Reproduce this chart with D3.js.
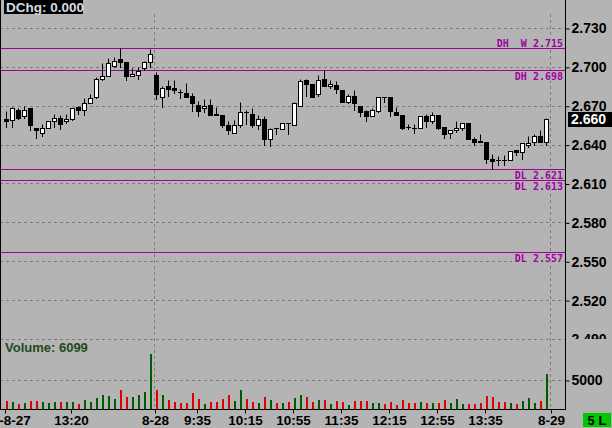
<!DOCTYPE html>
<html><head><meta charset="utf-8">
<script src="https://cdn.jsdelivr.net/npm/d3@7/dist/d3.min.js"></script>
<style>
html,body{margin:0;padding:0;background:#b4b4b4;overflow:hidden;}
svg{display:block;}
text{font-family:"Liberation Sans",Arial,sans-serif;font-weight:bold;}
</style></head><body>
<svg id="c" width="612" height="428"></svg>
<script>
const categories = [
 "08-27 12:25","08-27 12:30","08-27 12:35","08-27 12:40","08-27 12:45","08-27 12:50","08-27 12:55",
 "08-27 13:00","08-27 13:05","08-27 13:10","08-27 13:15","08-27 13:20","08-27 13:25","08-27 13:30",
 "08-27 13:35","08-27 13:40","08-27 13:45","08-27 13:50","08-27 13:55","08-27 14:00","08-27 14:05",
 "08-27 14:10","08-27 14:15","08-27 14:20","08-27 14:25",
 "08-28 09:00","08-28 09:05","08-28 09:10","08-28 09:15","08-28 09:20","08-28 09:25","08-28 09:30",
 "08-28 09:35","08-28 09:40","08-28 09:45","08-28 09:50","08-28 09:55","08-28 10:00","08-28 10:05",
 "08-28 10:10","08-28 10:15","08-28 10:20","08-28 10:25","08-28 10:30","08-28 10:35","08-28 10:40",
 "08-28 10:45","08-28 10:50","08-28 10:55","08-28 11:00","08-28 11:05","08-28 11:10","08-28 11:15",
 "08-28 11:20","08-28 11:25","08-28 11:30","08-28 11:35","08-28 11:40","08-28 11:45","08-28 11:50",
 "08-28 11:55","08-28 12:00","08-28 12:05","08-28 12:10","08-28 12:15","08-28 12:20","08-28 12:25",
 "08-28 12:30","08-28 12:35","08-28 12:40","08-28 12:45","08-28 12:50","08-28 12:55","08-28 13:00",
 "08-28 13:05","08-28 13:10","08-28 13:15","08-28 13:20","08-28 13:25","08-28 13:30","08-28 13:35",
 "08-28 13:40","08-28 13:45","08-28 13:50","08-28 13:55","08-28 14:00","08-28 14:05","08-28 14:10",
 "08-28 14:15","08-28 14:20","08-28 14:25"];
const nextSession = "08-29 09:00";
const opens = [
 2.660,2.659,2.667,2.662,2.668,2.653,2.649,2.653,2.658,2.661,
 2.658,2.660,2.669,2.667,2.672,2.677,2.691,2.693,2.701,2.706,
 2.704,2.693,2.694,2.699,2.704,2.694,2.677,2.685,2.684,2.681,
 2.680,2.678,2.671,2.668,2.671,2.664,2.663,2.655,2.649,2.655,
 2.665,2.664,2.655,2.660,2.644,2.653,2.652,2.657,2.655,2.670,
 2.690,2.687,2.679,2.691,2.685,2.686,2.682,2.673,2.678,2.670,
 2.666,2.662,2.666,2.677,2.677,2.665,2.663,2.654,2.653,2.653,
 2.662,2.658,2.663,2.654,2.649,2.651,2.653,2.657,2.644,2.643,
 2.642,2.629,2.628,2.628,2.628,2.636,2.634,2.640,2.642,2.647,
 2.642];
const highs = [
 2.666,2.669,2.668,2.670,2.668,2.653,2.656,2.658,2.664,2.663,
 2.664,2.668,2.670,2.676,2.679,2.692,2.703,2.707,2.708,2.715,
 2.704,2.699,2.700,2.705,2.714,2.696,2.685,2.690,2.690,2.683,
 2.688,2.680,2.674,2.675,2.675,2.669,2.663,2.658,2.659,2.673,
 2.667,2.668,2.663,2.662,2.653,2.653,2.657,2.657,2.673,2.691,
 2.691,2.687,2.694,2.698,2.690,2.689,2.682,2.679,2.682,2.670,
 2.667,2.668,2.677,2.677,2.677,2.669,2.663,2.656,2.656,2.662,
 2.664,2.665,2.663,2.654,2.651,2.658,2.657,2.657,2.646,2.648,
 2.642,2.633,2.631,2.632,2.635,2.636,2.641,2.647,2.648,2.651,
 2.661];
const lows = [
 2.654,2.654,2.660,2.661,2.651,2.645,2.647,2.653,2.654,2.652,
 2.657,2.659,2.664,2.663,2.672,2.676,2.690,2.693,2.700,2.700,
 2.690,2.693,2.691,2.698,2.700,2.675,2.669,2.678,2.680,2.676,
 2.677,2.666,2.662,2.665,2.663,2.663,2.654,2.648,2.649,2.654,
 2.656,2.654,2.652,2.640,2.639,2.648,2.652,2.648,2.655,2.670,
 2.678,2.677,2.678,2.685,2.684,2.680,2.673,2.672,2.667,2.662,
 2.658,2.662,2.665,2.673,2.662,2.663,2.652,2.652,2.649,2.653,
 2.654,2.657,2.652,2.645,2.645,2.650,2.651,2.644,2.640,2.642,
 2.626,2.621,2.624,2.624,2.628,2.632,2.629,2.638,2.640,2.642,
 2.640];
const closes = [
 2.658,2.668,2.661,2.667,2.655,2.651,2.653,2.658,2.661,2.656,
 2.660,2.668,2.667,2.672,2.676,2.691,2.693,2.703,2.705,2.704,
 2.693,2.695,2.697,2.704,2.710,2.679,2.684,2.683,2.682,2.681,
 2.677,2.672,2.666,2.670,2.663,2.663,2.655,2.651,2.655,2.665,
 2.665,2.655,2.660,2.644,2.652,2.653,2.657,2.657,2.672,2.689,
 2.687,2.677,2.690,2.685,2.687,2.683,2.673,2.678,2.672,2.665,
 2.662,2.667,2.677,2.677,2.666,2.663,2.653,2.654,2.653,2.662,
 2.658,2.663,2.653,2.648,2.651,2.653,2.657,2.644,2.642,2.642,
 2.629,2.627,2.628,2.628,2.635,2.634,2.641,2.641,2.647,2.642,
 2.660];
const volumes = [
 1430,1200,860,1090,1430,1430,1200,1090,1200,1260,
 1200,1200,860,1550,1260,1900,2360,2300,1780,3280,
 2120,2070,2470,2930,9480,3280,2410,1550,1260,1090,
 1090,2810,1780,860,1200,1200,1780,2410,1430,3280,
 1720,1200,1090,2070,1550,1090,980,1200,1900,2410,
 2010,1260,1550,1550,860,1430,1260,740,1380,1380,
 1380,980,980,860,1260,690,1550,980,980,1260,
 980,1090,980,1550,980,1720,860,860,860,1090,
 2290,2120,1260,1260,1090,810,1430,1900,1090,1430,
 6099];
const priceTicks = [2.730,2.700,2.670,2.640,2.610,2.580,2.550,2.520,2.490];
const volumeTicks = [5000];
const timeTickCats = ["08-27 12:25","08-27 13:20","08-28 09:00","08-28 09:35","08-28 10:15","08-28 10:55",
 "08-28 11:35","08-28 12:15","08-28 12:55","08-28 13:35","08-29 09:00"];
const timeTickLabels = ["20-8-27","13:20","8-28","9:35","10:15","10:55","11:35","12:15","12:55","13:35","8-29"];
const sessionStarts = ["08-28 09:00","08-29 09:00"];
const refLevels = [2.715,2.698,2.621,2.613,2.557];
const refNames = ["DH  W","DH","DL","DL","DL"];
const lastPrice = 2.660;
const lastVolume = 6099;
const dayChange = "0.000";
const periodLabel = "5 L";

const BG = "#b4b4b4", GRID = "#7c7c7c", PURPLE = "#a000a0";
const svg = d3.select("#c");
const axisX = 565, axisY = 409;
const snap = v => Math.round(v) + 0.5;

const xDomain = categories.concat([nextSession]);
const x = d3.scaleBand().domain(xDomain).range([3.5, 3.5 + xDomain.length * 6]).padding(0);
const cx = d => x(d) + x.bandwidth() / 2;
const y = d3.scaleLinear().domain([2.49, 2.73]).range([338.6, 28.3]);
const vy = d3.scaleLinear().domain([0, 5000]).range([axisY, 380]);

svg.append("rect").attr("width", 612).attr("height", 428).attr("fill", BG);

// horizontal grid
const g = svg.append("g");
g.selectAll("line.pg").data(priceTicks).join("line")
  .attr("x1", 0).attr("x2", axisX).attr("y1", d => snap(y(d))).attr("y2", d => snap(y(d)))
  .attr("stroke", GRID).attr("stroke-dasharray", "3,3");
g.selectAll("line.vg").data(volumeTicks).join("line")
  .attr("x1", 0).attr("x2", axisX).attr("y1", d => snap(vy(d))).attr("y2", d => snap(vy(d)))
  .attr("stroke", GRID).attr("stroke-dasharray", "3,3");
// session separators
g.selectAll("line.sep").data(sessionStarts).join("line")
  .attr("x1", d => Math.round(cx(d)) - 2.5).attr("x2", d => Math.round(cx(d)) - 2.5)
  .attr("y1", 14).attr("y2", axisY).attr("stroke", GRID).attr("stroke-dasharray", "3,3");

// reference levels
const refs = refLevels.map((v, i) => ({v, name: refNames[i], above: i === 0}));
const rg = svg.append("g");
rg.selectAll("line").data(refs).join("line")
  .attr("x1", 1).attr("x2", axisX).attr("y1", d => snap(y(d.v))).attr("y2", d => snap(y(d.v)))
  .attr("stroke", PURPLE).attr("stroke-width", 1.2);
const lbl = rg.selectAll("g.l").data(refs).join("g");
lbl.append("rect")
  .attr("x", d => d.above ? 497 : 512).attr("width", d => d.above ? 67 : 52)
  .attr("y", d => d.above ? snap(y(d.v)) - 10 : snap(y(d.v)) + 1).attr("height", 9)
  .attr("fill", BG);
lbl.append("text")
  .attr("x", 563).attr("text-anchor", "end")
  .attr("y", d => d.above ? snap(y(d.v)) - 2 : snap(y(d.v)) + 9)
  .style("font-family", "'DejaVu Sans Mono',monospace").style("font-size", "10px")
  .style("white-space", "pre").attr("fill", PURPLE)
  .text(d => d.name + " " + d.v.toFixed(3));

// candles
const bars = categories.map((c, i) => ({c, o: opens[i], h: highs[i], l: lows[i], cl: closes[i], v: volumes[i]}));
const cg = svg.append("g");
cg.selectAll("line.w").data(bars).join("line")
  .attr("x1", d => Math.floor(cx(d.c)) + 0.5).attr("x2", d => Math.floor(cx(d.c)) + 0.5)
  .attr("y1", d => snap(y(d.h))).attr("y2", d => snap(y(d.l)) + 0.5)
  .attr("stroke", "#000");
cg.selectAll("rect.b").data(bars.filter(d => d.o !== d.cl)).join("rect")
  .attr("x", d => Math.floor(cx(d.c)) - 1.5).attr("width", 4)
  .attr("y", d => snap(y(Math.max(d.o, d.cl))))
  .attr("height", d => Math.max(1, snap(y(Math.min(d.o, d.cl))) - snap(y(Math.max(d.o, d.cl)))))
  .attr("fill", d => d.cl > d.o ? "#fff" : "#000").attr("stroke", "#000");
cg.selectAll("line.dj").data(bars.filter(d => d.o === d.cl)).join("line")
  .attr("x1", d => Math.floor(cx(d.c)) - 2).attr("x2", d => Math.floor(cx(d.c)) + 3)
  .attr("y1", d => snap(y(d.o))).attr("y2", d => snap(y(d.o)))
  .attr("stroke", "#000");

// volume
svg.append("g").selectAll("rect").data(bars).join("rect")
  .attr("x", d => Math.floor(cx(d.c))).attr("width", 2)
  .attr("y", d => Math.round(vy(d.v))).attr("height", d => axisY - Math.round(vy(d.v)))
  .attr("fill", d => d.cl > d.o ? "#005a00" : "#e00000");

// axes
svg.append("line").attr("x1", 0.5).attr("x2", 0.5).attr("y1", 0).attr("y2", axisY).attr("stroke", "#000");
const ra = svg.append("g").attr("transform", `translate(${axisX + 0.5},0)`)
  .call(d3.axisRight(d3.scaleLinear().domain(y.domain()).range(y.range().map(snap)))
    .tickValues(priceTicks).tickFormat(d3.format(".3f")).tickSize(4).tickPadding(2));
ra.select(".domain").remove();
const va = svg.append("g").attr("transform", `translate(${axisX + 0.5},0)`)
  .call(d3.axisRight(d3.scaleLinear().domain(vy.domain()).range(vy.range().map(snap)))
    .tickValues(volumeTicks).tickFormat(d3.format("d")).tickSize(4).tickPadding(2));
va.select(".domain").remove();
svg.selectAll(".tick text").style("font-family", "'Liberation Sans',Arial,sans-serif")
  .style("font-weight", "bold").style("font-size", "14px").attr("fill", "#000");
svg.selectAll(".tick line").attr("stroke", "#000");

// volume panel covers the lowest price label
svg.append("rect").attr("x", axisX + 1).attr("y", 339).attr("width", 46).attr("height", 30).attr("fill", BG);
va.raise();

svg.append("line").attr("x1", axisX + 0.5).attr("x2", axisX + 0.5).attr("y1", 0).attr("y2", axisY + 1).attr("stroke", "#000");

const labelMap = new Map(timeTickCats.map((c, i) => [c, timeTickLabels[i]]));
const ba = svg.append("g").attr("transform", `translate(0,${axisY + 0.5})`)
  .call(d3.axisBottom(x).tickValues(timeTickCats).tickFormat(d => labelMap.get(d)).tickSize(4).tickPadding(2));
ba.select(".domain").remove();
ba.selectAll(".tick").attr("transform", d => `translate(${Math.floor(cx(d)) - 0.5},0)`);
ba.selectAll("text").style("font-family", "'Liberation Sans',Arial,sans-serif")
  .style("font-weight", "bold").style("font-size", "13.5px").attr("fill", "#000")
  .attr("dx", (d, i) => i === 0 ? 2 : 0);
ba.selectAll("line").attr("stroke", "#000");
svg.append("line").attr("x1", 0).attr("x2", axisX + 1).attr("y1", axisY + 0.5).attr("y2", axisY + 0.5).attr("stroke", "#000");

// last price tag
const ly = y(lastPrice);
svg.append("rect").attr("x", 568).attr("y", Math.round(ly) - 7).attr("width", 44).attr("height", 15).attr("fill", "#000");
svg.append("text").attr("x", 571).attr("y", Math.round(ly) + 5).attr("fill", "#fff")
  .style("font-size", "14px").text(lastPrice.toFixed(3));

// DChg box
svg.append("rect").attr("x", 4).attr("y", 0).attr("width", 79).attr("height", 14).attr("fill", "#000");
svg.append("text").attr("x", 6).attr("y", 12).attr("fill", "#d4dce4")
  .style("font-size", "13.5px").text("DChg: " + dayChange);

// Volume label
svg.append("text").attr("x", 5).attr("y", 352).attr("fill", "#1e4a1e")
  .style("font-size", "13px").text("Volume: " + lastVolume);

// period box
svg.append("rect").attr("x", 583).attr("y", 413).attr("width", 28).attr("height", 14).attr("fill", "#00c800");
svg.append("text").attr("x", 597).attr("y", 425).attr("text-anchor", "middle").attr("fill", "#000")
  .style("font-size", "13px").text(periodLabel);
</script>
</body></html>
